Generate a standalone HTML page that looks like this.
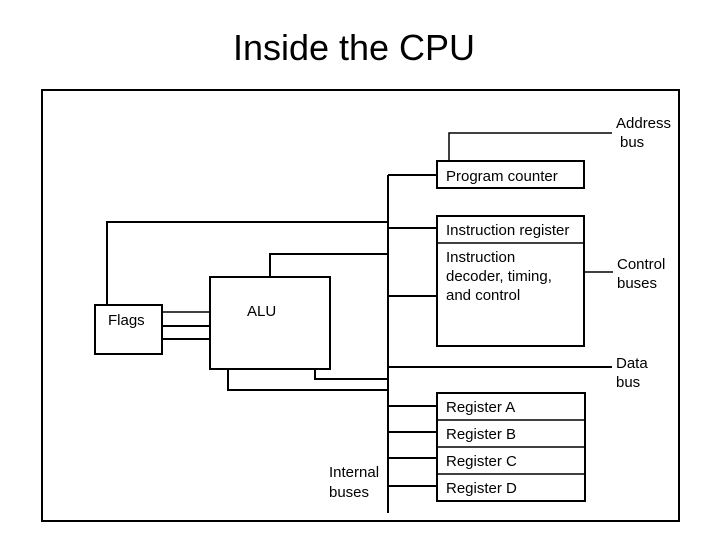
<!DOCTYPE html>
<html><head><style>
body{margin:0;width:720px;height:540px;background:#fff;overflow:hidden;}
</style></head><body>
<svg width="720" height="540" xmlns="http://www.w3.org/2000/svg" font-family="Liberation Sans, sans-serif">
<text x="354" y="60" font-size="36" text-anchor="middle" fill="#000">Inside the CPU</text>
<g fill="none" stroke="#000" stroke-width="2">
<rect x="42" y="90" width="637" height="431"/>
<line x1="388" y1="175" x2="388" y2="513"/>
<rect x="437" y="161" width="147" height="27"/>
<line x1="388" y1="175" x2="437" y2="175"/>
<polyline points="449,161 449,133 612,133" stroke-width="1.5"/>
<rect x="437" y="216" width="147" height="130"/>
<line x1="437" y1="243" x2="584" y2="243" stroke-width="1.5"/>
<line x1="388" y1="228" x2="437" y2="228"/>
<line x1="388" y1="296" x2="437" y2="296"/>
<line x1="584" y1="272" x2="613" y2="272" stroke-width="1.5"/>
<polyline points="107,305 107,222 388,222"/>
<rect x="95" y="305" width="67" height="49"/>
<rect x="210" y="277" width="120" height="92"/>
<polyline points="270,277 270,254 388,254"/>
<line x1="162" y1="312" x2="210" y2="312" stroke-width="1.5"/>
<line x1="162" y1="326" x2="210" y2="326"/>
<line x1="162" y1="339" x2="210" y2="339"/>
<polyline points="315,369 315,379 388,379"/>
<polyline points="228,369 228,390 388,390"/>
<line x1="388" y1="367" x2="612" y2="367"/>
<rect x="437" y="393" width="148" height="108"/>
<line x1="437" y1="420" x2="585" y2="420" stroke-width="1.5"/>
<line x1="437" y1="447" x2="585" y2="447" stroke-width="1.5"/>
<line x1="437" y1="474" x2="585" y2="474" stroke-width="1.5"/>
<line x1="388" y1="406" x2="437" y2="406"/>
<line x1="388" y1="432" x2="437" y2="432"/>
<line x1="388" y1="458" x2="437" y2="458"/>
<line x1="388" y1="486" x2="437" y2="486"/>
</g>
<g font-size="15" fill="#000">
<text x="446" y="181">Program counter</text>
<text x="446" y="235">Instruction register</text>
<text x="446" y="262">Instruction</text>
<text x="446" y="281">decoder, timing,</text>
<text x="446" y="300">and control</text>
<text x="108" y="325">Flags</text>
<text x="247" y="316">ALU</text>
<text x="616" y="128">Address</text>
<text x="620" y="147">bus</text>
<text x="617" y="269">Control</text>
<text x="617" y="288">buses</text>
<text x="616" y="368">Data</text>
<text x="616" y="387">bus</text>
<text x="446" y="412">Register A</text>
<text x="446" y="439">Register B</text>
<text x="446" y="466">Register C</text>
<text x="446" y="493">Register D</text>
<text x="329" y="477">Internal</text>
<text x="329" y="497">buses</text>
</g>
</svg>
</body></html>
